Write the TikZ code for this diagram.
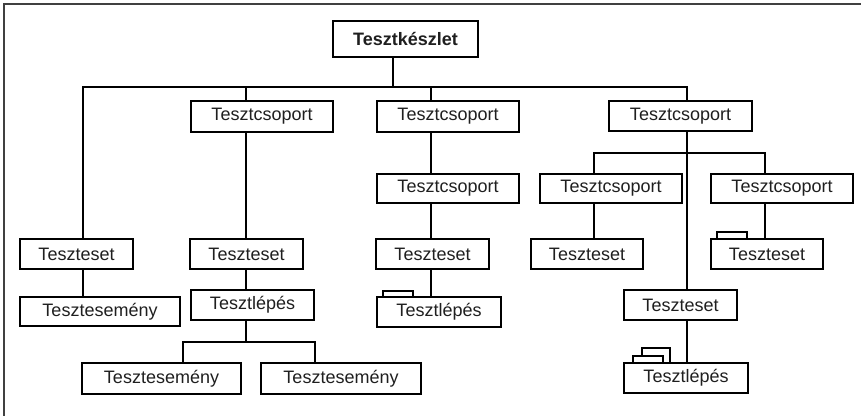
\documentclass[tikz,border=0pt]{standalone}
\usepackage{fontspec}
\setmainfont{Liberation Sans}
\newcommand\mybox[6]{\node[box,minimum width={#3-#2},minimum height={#5-#4},#6] (#1) at ({(#2+#3)/2},{(#4+#5)/2})}
\begin{document}
\begin{tikzpicture}[x=1pt,y=-1pt,
  box/.style={draw, line width=1.7pt, inner sep=0pt, outer sep=0pt, font=\fontsize{18}{20}\selectfont, text=black!88},
  conn/.style={line width=1.7pt},
  tab/.style={line width=1.5pt}]
\useasboundingbox (0,0) rectangle (861,416);
\draw[line width=1.3pt, black!75] (861,4) -- (4,4) -- (4,416);
% nodes
\mybox{r}{333}{478}{21}{57}{font=\fontsize{18}{20}\selectfont\bfseries}{Tesztkészlet};
\mybox{g1}{191}{333}{101}{132}{}{Tesztcsoport};
\mybox{g2}{377}{519}{101}{132}{}{Tesztcsoport};
\mybox{g3}{609}{752}{101}{131}{}{Tesztcsoport};
\mybox{g2b}{377}{519}{174}{203}{}{Tesztcsoport};
\mybox{g3a}{540}{682}{174}{203}{}{Tesztcsoport};
\mybox{g3b}{711}{853}{174}{203}{}{Tesztcsoport};
\mybox{s1}{20}{133}{239}{269}{}{Teszteset};
\mybox{s2}{190}{303}{239}{269}{}{Teszteset};
\mybox{s3}{376}{489}{239}{269}{}{Teszteset};
\mybox{s3a}{531}{643}{239}{269}{}{Teszteset};
\mybox{s3b}{711}{823}{239}{269}{}{Teszteset};
\mybox{s3c}{624}{737}{290}{320}{}{Teszteset};
\mybox{e1}{20}{180}{297}{326}{}{Tesztesemény};
\mybox{l2}{191}{314}{290}{320}{}{Tesztlépés};
\mybox{e2}{82}{241}{363}{394}{}{Tesztesemény};
\mybox{e3}{261}{421}{363}{394}{}{Tesztesemény};
\mybox{l3}{377}{501}{297}{327}{}{Tesztlépés};
\mybox{l4}{624}{748}{363}{393}{}{Tesztlépés};
% tabs
\draw[tab] (717,239) -- (717,232) -- (747,232) -- (747,239);
\draw[tab] (383,297) -- (383,291) -- (413,291) -- (413,297);
\draw[tab] (642,356) -- (642,348) -- (670,348) -- (670,363);
\draw[tab] (633,363) -- (633,356) -- (663,356) -- (663,363);
% connector points
\coordinate (k393) at (393,87);
\coordinate (k83) at (83,87);
\coordinate (k246) at (246,87);
\coordinate (k431) at (431,87);
\coordinate (k687) at (687,87);
\coordinate (m246) at (246,342);
\coordinate (m183) at (183,342);
\coordinate (m315) at (315,342);
\coordinate (n594) at (594,153);
\coordinate (n765) at (765,153);
% connectors
\draw[conn] (r.south -| k393) -- (k393);
\draw[conn] (s1.north -| k83) -- (k83) -- (k687) -- (g3.north -| k687);
\draw[conn] (k246) -- (g1.north -| k246);
\draw[conn] (k431) -- (g2.north -| k431);
\draw[conn] (s1.south -| k83) -- (e1.north -| k83);
\draw[conn] (g1.south -| k246) -- (s2.north -| k246);
\draw[conn] (s2.south -| k246) -- (l2.north -| k246);
\draw[conn] (l2.south -| m246) -- (m246);
\draw[conn] (e2.north -| m183) -- (m183) -- (m315) -- (e3.north -| m315);
\draw[conn] (g2.south -| k431) -- (g2b.north -| k431);
\draw[conn] (g2b.south -| k431) -- (s3.north -| k431);
\draw[conn] (s3.south -| k431) -- (l3.north -| k431);
\draw[conn] (g3.south -| k687) -- (s3c.north -| k687);
\draw[conn] (s3c.south -| k687) -- (l4.north -| k687);
\draw[conn] (g3a.north -| n594) -- (n594) -- (n765) -- (g3b.north -| n765);
\draw[conn] (g3a.south -| n594) -- (s3a.north -| n594);
\draw[conn] (g3b.south -| n765) -- (s3b.north -| n765);
\end{tikzpicture}
\end{document}
